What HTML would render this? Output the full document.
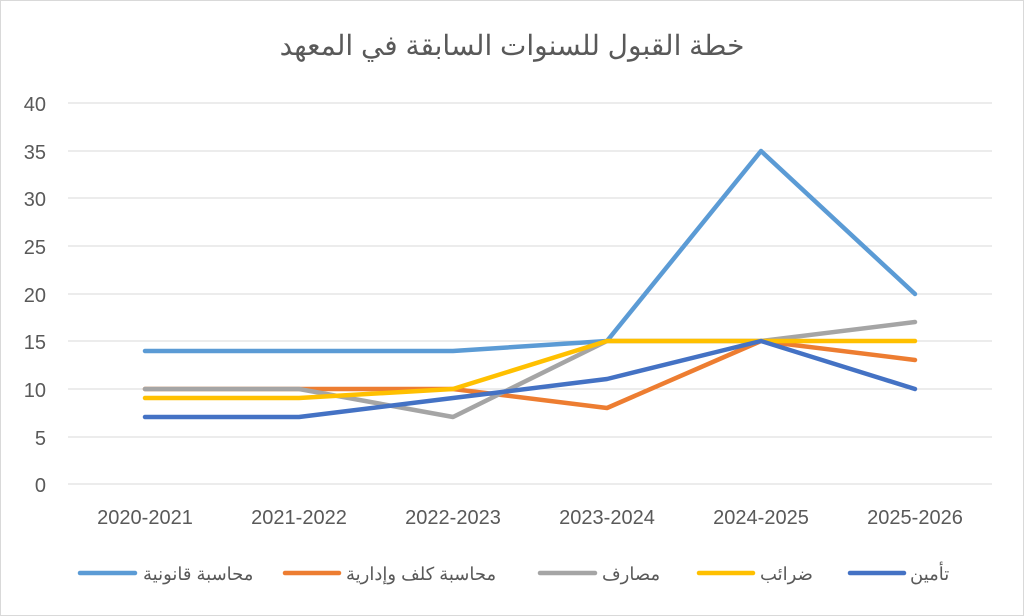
<!DOCTYPE html>
<html><head><meta charset="utf-8"><style>
body{margin:0;background:#fff}
svg{display:block}
text{font-family:"Liberation Sans","Noto Sans CJK SC",sans-serif;fill:#595959}
</style></head><body>
<svg width="1024" height="616" xmlns="http://www.w3.org/2000/svg">
<rect x="0.5" y="0.5" width="1023" height="615" fill="#fff" stroke="#d9d9d9"/>
<text x="512" y="55" font-size="28" text-anchor="middle">خطة القبول للسنوات السابقة في المعهد</text>
<g stroke="#d9d9d9" stroke-width="1">
<line x1="68" x2="992" y1="103" y2="103"/><line x1="68" x2="992" y1="151" y2="151"/>
<line x1="68" x2="992" y1="198" y2="198"/><line x1="68" x2="992" y1="246" y2="246"/>
<line x1="68" x2="992" y1="294" y2="294"/><line x1="68" x2="992" y1="341" y2="341"/>
<line x1="68" x2="992" y1="389" y2="389"/><line x1="68" x2="992" y1="437" y2="437"/>
<line x1="68" x2="992" y1="484" y2="484"/>
</g>
<g font-size="20" text-anchor="end">
<text x="46" y="111">40</text><text x="46" y="159">35</text><text x="46" y="206">30</text>
<text x="46" y="254">25</text><text x="46" y="302">20</text><text x="46" y="349">15</text>
<text x="46" y="397">10</text><text x="46" y="445">5</text><text x="46" y="492">0</text>
</g>
<g font-size="20" text-anchor="middle">
<text x="145" y="524">2020-2021</text><text x="299" y="524">2021-2022</text>
<text x="453" y="524">2022-2023</text><text x="607" y="524">2023-2024</text>
<text x="761" y="524">2024-2025</text><text x="915" y="524">2025-2026</text>
</g>
<g fill="none" stroke-width="4.5" stroke-linejoin="round" stroke-linecap="round">
<polyline stroke="#5B9BD5" points="145,351 299,351 453,351 607,341 761,151 915,294"/>
<polyline stroke="#ED7D31" points="145,389 299,389 453,389 607,408 761,341 915,360"/>
<polyline stroke="#A5A5A5" points="145,389 299,389 453,417 607,341 761,341 915,322"/>
<polyline stroke="#FFC000" points="145,398 299,398 453,389 607,341 761,341 915,341"/>
<polyline stroke="#4472C4" points="145,417 299,417 453,398 607,379 761,341 915,389"/>
</g>
<g stroke-width="4.5" stroke-linecap="round">
<line x1="80" x2="135" y1="573" y2="573" stroke="#5B9BD5"/>
<line x1="285" x2="339" y1="573" y2="573" stroke="#ED7D31"/>
<line x1="540" x2="595" y1="573" y2="573" stroke="#A5A5A5"/>
<line x1="699" x2="753" y1="573" y2="573" stroke="#FFC000"/>
<line x1="850" x2="904" y1="573" y2="573" stroke="#4472C4"/>
</g>
<g font-size="18">
<text x="143" y="580">محاسبة قانونية</text>
<text x="346" y="580">محاسبة كلف وإدارية</text>
<text x="602" y="580">مصارف</text>
<text x="760" y="580">ضرائب</text>
<text x="910" y="580">تأمين</text>
</g>
</svg>
</body></html>
